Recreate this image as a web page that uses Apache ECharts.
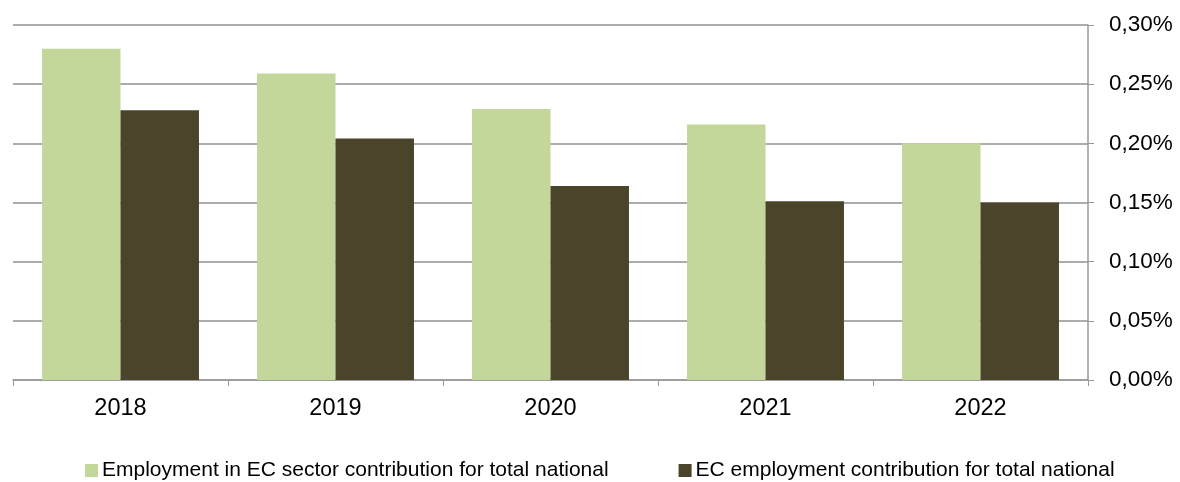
<!DOCTYPE html>
<html>
<head>
<meta charset="utf-8">
<script src="https://cdn.jsdelivr.net/npm/echarts@6/dist/echarts.min.js"></script>
<style>
  html, body { margin: 0; padding: 0; background: #fff; }
  #chart { width: 1180px; height: 482px; }
</style>
</head>
<body>
<div id="chart"></div>
<script>
// 数据 (单位: %)
const years = ['2018', '2019', '2020', '2021', '2022']
const sectorShare = [0.28, 0.259, 0.229, 0.216, 0.2]
const ecShare = [0.228, 0.204, 0.164, 0.151, 0.15]
const seriesNames = [
  'Employment in EC sector contribution for total national',
  'EC employment contribution for total national',
]

const chart = echarts.init(document.getElementById('chart'))
const font = 'Liberation Sans, Arial, sans-serif'

const option = {
  animation: false,
  grid: {
    left: 13,
    right: 92,
    top: 25,
    bottom: 102,
  },
  legend: {
    top: 455,
    left: 80,
    itemWidth: 13,
    itemHeight: 13,
    itemGap: 70,
    icon: 'rect',
    textStyle: {
      fontFamily: font,
      fontSize: 21,
      color: '#000',
      padding: [0, 0, 0, -1],
    },
    data: seriesNames,
  },
  xAxis: {
    type: 'category',
    data: years,
    axisLine: { lineStyle: { color: '#999', width: 1.5 } },
    axisTick: { show: true, length: 6, lineStyle: { color: '#999' } },
    axisLabel: {
      color: '#000',
      fontFamily: font,
      fontSize: 23.5,
      margin: 17,
    },
  },
  yAxis: {
    type: 'value',
    position: 'right',
    min: 0,
    max: 0.3,
    interval: 0.05,
    axisLine: { show: true, lineStyle: { color: '#999', width: 1.5 } },
    axisTick: { show: true, length: 6, lineStyle: { color: '#999' } },
    splitLine: { lineStyle: { color: '#909090', width: 1.5 } },
    axisLabel: {
      color: '#000',
      fontFamily: font,
      fontSize: 22.5,
      margin: 21,
      formatter: (v) => v.toFixed(2).replace('.', ',') + '%',
    },
  },
  series: [
    {
      name: seriesNames[0],
      type: 'bar',
      data: sectorShare,
      barGap: '0%',
      barCategoryGap: '27%',
      itemStyle: { color: '#C4D79B' },
    },
    {
      name: seriesNames[1],
      type: 'bar',
      data: ecShare,
      itemStyle: { color: '#4A452A' },
    },
  ],
}

chart.setOption(option)
</script>
</body>
</html>
